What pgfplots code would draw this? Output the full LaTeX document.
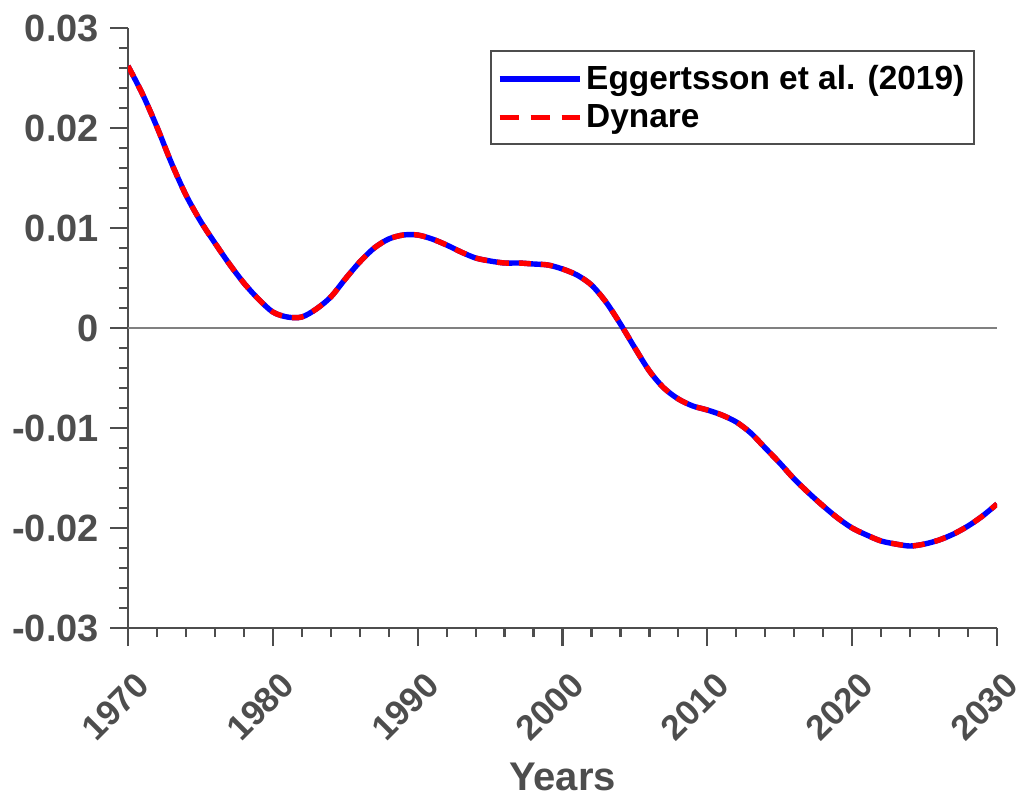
\documentclass[border=0pt]{standalone}
\usepackage{pgfplots}
\pgfplotsset{compat=1.18}
\usepackage{fontspec}
\setmainfont{Liberation Sans}
\definecolor{axgray}{RGB}{77,77,77}
\definecolor{mblue}{RGB}{0,0,255}
\definecolor{mred}{RGB}{255,0,0}
\pgfplotstableread{
year val
1970 0.0262
1971 0.0234
1972 0.0201
1973 0.0165
1974 0.0133
1975 0.0107
1976 0.0085
1977 0.0064
1978 0.0045
1979 0.0029
1980 0.0016
1981 0.0011
1982 0.0011
1983 0.0019
1984 0.0031
1985 0.0049
1986 0.0066
1987 0.0080
1988 0.0089
1989 0.0093
1990 0.0093
1991 0.0089
1992 0.0083
1993 0.0076
1994 0.0070
1995 0.0067
1996 0.0065
1997 0.0065
1998 0.0064
1999 0.0063
2000 0.0059
2001 0.0053
2002 0.0043
2003 0.0026
2004 0.0004
2005 -0.0020
2006 -0.0043
2007 -0.0060
2008 -0.0071
2009 -0.0078
2010 -0.0082
2011 -0.0087
2012 -0.0094
2013 -0.0105
2014 -0.0120
2015 -0.0135
2016 -0.0151
2017 -0.0165
2018 -0.0178
2019 -0.0190
2020 -0.0200
2021 -0.0207
2022 -0.0213
2023 -0.0216
2024 -0.0218
2025 -0.0216
2026 -0.0212
2027 -0.0206
2028 -0.0198
2029 -0.0188
2030 -0.0176
}\datatable
\begin{document}
\begin{tikzpicture}
\begin{axis}[
  scale only axis,
  width=434.5pt, height=300pt,
  xmin=1970, xmax=2030, ymin=-0.03, ymax=0.03,
  scaled y ticks=false, scaled x ticks=false,
  axis x line=bottom, axis y line=left,
  axis line style={-, axgray, line width=1.1pt},
  tick align=outside,
  major tick length=9pt, minor tick length=4.5pt,
  every tick/.style={axgray, line width=1.1pt},
  xtick={1970,1980,1990,2000,2010,2020,2030},
  xticklabels={1970,1980,1990,2000,2010,2020,2030},
  ytick={-0.03,-0.02,-0.01,0,0.01,0.02,0.03},
  yticklabels={-0.03,-0.02,-0.01,0,0.01,0.02,0.03},
  minor x tick num=4, minor y tick num=4,
  ticklabel style={font=\bfseries\fontsize{17.5}{20}\selectfont, text=axgray},
  yticklabel style={font=\bfseries\fontsize{19}{22}\selectfont, xshift=-2pt},
  xticklabel style={xshift=10pt, yshift=-14pt, rotate=45, anchor=east},
  xlabel={Years},
  xlabel style={font=\bfseries\fontsize{20}{24}\selectfont, text=axgray, yshift=-2pt},
  legend style={at={(0.975,0.963)}, anchor=north east, draw=axgray, line width=1pt,
    font=\bfseries\fontsize{16.7}{20}\selectfont, text=black, inner xsep=3pt, inner ysep=5pt,
    row sep=2pt, cells={anchor=west}},
  legend image code/.code={\draw[#1] (0pt,0pt) -- (40pt,0pt);},
]
\addplot[gray, line width=0.8pt, forget plot] coordinates {(1970,0) (2030,0)};
\addplot[mblue, line width=2.7pt, smooth] table[x=year, y=val] {\datatable};
\addlegendentry{Eggertsson et al. (2019)}
\addplot[mred, line width=2.7pt, smooth, dash pattern=on 6pt off 5pt,
  legend image post style={dash pattern=on 9.5pt off 6pt}] table[x=year, y=val] {\datatable};
\addlegendentry{Dynare}
\end{axis}
\pgfresetboundingbox
\path ([shift={(-64pt,-85pt)}]current axis.south west) rectangle ([shift={(12.5pt,14pt)}]current axis.north east);
\end{tikzpicture}
\end{document}
